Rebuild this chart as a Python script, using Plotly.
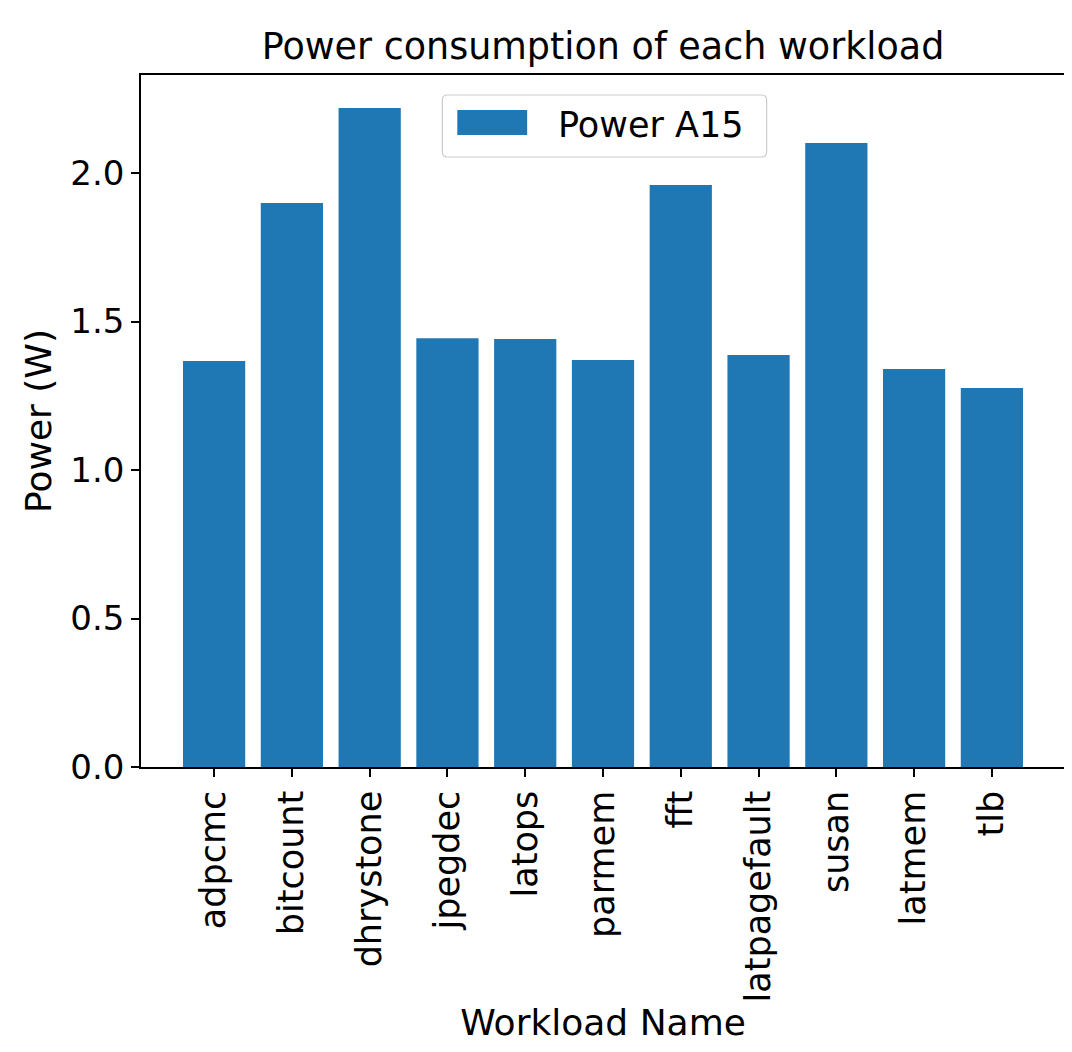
import plotly.graph_objects as go

workloads = ["adpcmc", "bitcount", "dhrystone", "jpegdec", "latops", "parmem",
             "fft", "latpagefault", "susan", "latmem", "tlb"]
power_a15 = [1.367, 1.899, 2.219, 1.444, 1.441, 1.370, 1.960, 1.387, 2.101, 1.340, 1.276]

y_ticks = [0.0, 0.5, 1.0, 1.5, 2.0]
y_tick_labels = ["0.0", "0.5", "1.0", "1.5", "2.0"]

series_name = "Power A15"
BAR_COLOR = "#1f77b4"
FONT = "DejaVu Sans"

W, H = 1064, 1044
L, R, T, B = 133, 5, 67, 285
PW, PH = W - L - R, H - T - B

fig = go.Figure()
fig.add_trace(go.Bar(
    x=list(range(len(workloads))),
    y=power_a15,
    name=series_name,
    marker=dict(color=BAR_COLOR, line=dict(width=0)),
    width=0.8,
    showlegend=False,
))


def px_x(p):
    return (p - L) / PW


def px_y(p):
    return 1 - (p - T) / PH


# legend box (matplotlib style) drawn in paper coordinates
x0, x1 = px_x(435), px_x(760)
y0, y1 = px_y(149), px_y(87)
rx, ry = 5 / PW, 5 / PH
path = (f"M {x0+rx},{y1} L {x1-rx},{y1} Q {x1},{y1} {x1},{y1-ry} "
        f"L {x1},{y0+ry} Q {x1},{y0} {x1-rx},{y0} L {x0+rx},{y0} "
        f"Q {x0},{y0} {x0},{y0+ry} L {x0},{y1-ry} Q {x0},{y1} {x0+rx},{y1} Z")
shapes = [
    dict(type="path", xref="paper", yref="paper", path=path,
         fillcolor="rgba(255,255,255,0.8)", line=dict(color="#cccccc", width=1.2)),
    dict(type="rect", xref="paper", yref="paper",
         x0=px_x(450), x1=px_x(520), y0=px_y(127), y1=px_y(102),
         fillcolor=BAR_COLOR, line=dict(width=0)),
]
annotations = [
    dict(text=series_name, xref="paper", yref="paper", x=px_x(549), y=px_y(117),
         xanchor="left", yanchor="middle", showarrow=False,
         font=dict(family=FONT, size=35, color="black")),
]

fig.update_layout(
    width=W, height=H,
    margin=dict(l=L, r=R, t=T, b=B),
    paper_bgcolor="white", plot_bgcolor="white",
    font=dict(family=FONT, color="black", size=34),
    title=dict(text="Power consumption of each workload", x=0.5, xref="paper",
               xanchor="center", y=1 - 38 / H, yanchor="middle",
               font=dict(family=FONT, size=36.5, color="black")),
    showlegend=False,
    shapes=shapes,
    annotations=annotations,
)

fig.update_xaxes(
    range=[-0.94, 10.94],
    tickmode="array", tickvals=list(range(len(workloads))), ticktext=workloads,
    tickangle=-90, ticks="outside", ticklen=8, tickwidth=1.5, tickcolor="black",
    showline=True, linecolor="black", linewidth=1.5, mirror=True,
    showgrid=False, zeroline=False,
    tickfont=dict(family=FONT, size=35),
    title=dict(text="Workload Name", font=dict(family=FONT, size=36), standoff=6),
)
fig.update_yaxes(
    range=[0, 2.33],
    tickmode="array", tickvals=y_ticks, ticktext=y_tick_labels,
    ticks="outside", ticklen=8, tickwidth=1.5, tickcolor="black",
    showline=True, linecolor="black", linewidth=1.5, mirror=True,
    showgrid=False, zeroline=False,
    tickfont=dict(family=FONT, size=34),
    title=dict(text="Power (W)", font=dict(family=FONT, size=36), standoff=8),
)

fig.write_html("out.html")
